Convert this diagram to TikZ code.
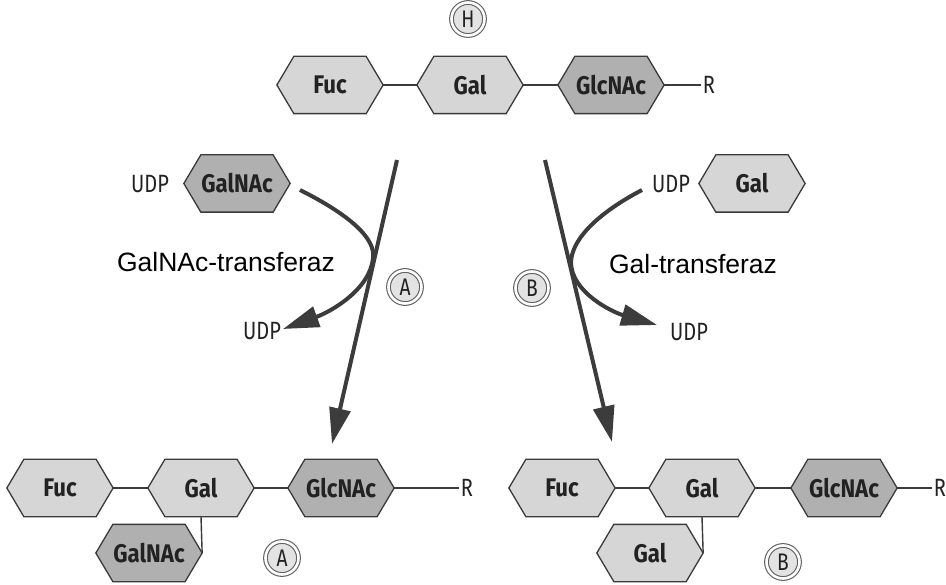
\documentclass[tikz,border=0pt]{standalone}
\usepackage{fontspec}
\setmainfont{Liberation Sans}
\newfontfamily\sugarfont[FakeStretch=0.87]{Fira Sans}
\newfontfamily\condfont[FakeStretch=0.8]{Fira Sans}
\usetikzlibrary{arrows.meta}

% elongated hexagon: a rectangle whose left and right sides are pointed
\makeatletter
\pgfdeclareshape{hexbox}{
  \inheritsavedanchors[from=rectangle]
  \inheritanchorborder[from=rectangle]
  \inheritanchor[from=rectangle]{center}
  \inheritanchor[from=rectangle]{north}
  \inheritanchor[from=rectangle]{south}
  \inheritanchor[from=rectangle]{east}
  \inheritanchor[from=rectangle]{west}
  \inheritanchor[from=rectangle]{north east}
  \inheritanchor[from=rectangle]{north west}
  \inheritanchor[from=rectangle]{south east}
  \inheritanchor[from=rectangle]{south west}
  \inheritanchor[from=rectangle]{base}
  \inheritanchor[from=rectangle]{mid}
  \backgroundpath{%
    \southwest \pgf@xa=\pgf@x \pgf@ya=\pgf@y
    \northeast \pgf@xb=\pgf@x \pgf@yb=\pgf@y
    \pgf@yc=.5\pgf@ya \advance\pgf@yc by .5\pgf@yb
    \pgf@xc=\pgf@xa \advance\pgf@xc by 17pt
    \pgfpathmoveto{\pgfqpoint{\pgf@xa}{\pgf@yc}}
    \pgfpathlineto{\pgfqpoint{\pgf@xc}{\pgf@yb}}
    \pgf@xc=\pgf@xb \advance\pgf@xc by -17pt
    \pgfpathlineto{\pgfqpoint{\pgf@xc}{\pgf@yb}}
    \pgfpathlineto{\pgfqpoint{\pgf@xb}{\pgf@yc}}
    \pgfpathlineto{\pgfqpoint{\pgf@xc}{\pgf@ya}}
    \pgf@xc=\pgf@xa \advance\pgf@xc by 17pt
    \pgfpathlineto{\pgfqpoint{\pgf@xc}{\pgf@ya}}
    \pgfpathclose
  }
}
\makeatother

\definecolor{sugarlight}{HTML}{D6D6D6}
\definecolor{sugardark}{HTML}{B0B0B0}
\definecolor{edgegray}{HTML}{3A3A3A}
\definecolor{flowgray}{HTML}{3C3C3C}
\definecolor{inkgray}{HTML}{222222}

\tikzset{
  sugar/.style={shape=hexbox, draw=edgegray, line width=1.3pt,
    minimum width=105pt, minimum height=56pt, inner sep=0pt,
    font=\sugarfont\bfseries\fontsize{25.5}{28}\selectfont, text=inkgray},
  light/.style={sugar, fill=sugarlight},
  dark/.style={sugar, fill=sugardark},
  tag/.style={font=\condfont\fontsize{25}{28}\selectfont, inner sep=2pt, text=inkgray},
  enzyme/.style={font=\fontsize{26.5}{30}\selectfont, inner sep=0pt, text=black},
  bond/.style={draw=edgegray, line width=1.4pt},
  flow/.style={draw=flowgray, line width=4pt,
    -{Triangle[length=36pt,width=21pt]}},
  badge/.style={circle, draw=gray!75!black, line width=1.1pt,
    double=white, double distance=2.6pt, fill=gray!22,
    minimum size=33pt, inner sep=0pt,
    font=\condfont\fontsize{24}{26}\selectfont, text=inkgray},
}

\begin{document}
\begin{tikzpicture}[x=1pt,y=-1pt]
\useasboundingbox (0,0) rectangle (946,585);

% H antigen
\node[badge] (lblH) at (468,19) {H};
\node[light] (hFuc) at (330,85) {Fuc};
\node[light] (hGal) at (470,85) {Gal};
\node[dark]  (hGlc) at (611,85) {GlcNAc};
\node[tag]   (hR)   at (709,85) {R};
\draw[bond] (hFuc.east) -- (hGal.west);
\draw[bond] (hGal.east) -- (hGlc.west);
\draw[bond] (hGlc.east) -- (hR.west);

% donor substrates
\node[tag]  (udpA)  at (150,184) {UDP};
\node[dark] (donA)  at (237,183.5) {GalNAc};
\node[tag]  (udpB)  at (671,184) {UDP};
\node[light] (donB) at (752,183.5) {Gal};

% released UDP
\node[tag] (relA) at (262,331) {UDP};
\node[tag] (relB) at (689,332) {UDP};

% enzymes
\node[enzyme] (enzA) at (226,262) {GalNAc-transferaz};
\node[enzyme] (enzB) at (693,264) {Gal-transferaz};
\node[badge] (lblA1) at (405,287) {A};
\node[badge] (lblB1) at (532,288) {B};

% reaction arrows
\coordinate (mainA0) at (397,160);
\coordinate (mainA1) at (332,444);
\coordinate (mainB0) at (545,160);
\coordinate (mainB1) at (612,442);
\draw[flow] (mainA0) -- (mainA1);
\draw[flow] (mainB0) -- (mainB1);

\coordinate (curA0) at (300,190);
\coordinate (curA1) at (283,329);
\draw[flow] (curA0) .. controls (348,214) and (376,238) .. (373,258)
  .. controls (370,290) and (330,312) .. (curA1);
\coordinate (curB0) at (642,190);
\coordinate (curB1) at (657,325);
\draw[flow] (curB0) .. controls (600,212) and (572,238) .. (571,262)
  .. controls (571,292) and (612,312) .. (curB1);

% A antigen
\node[light] (aFuc) at (60,488) {Fuc};
\node[light] (aGal) at (201,488) {Gal};
\node[dark]  (aGlc) at (341,488) {GlcNAc};
\node[tag]   (aR)   at (467,488) {R};
\node[dark]  (aSub) at (149,553) {GalNAc};
\draw[bond] (aFuc.east) -- (aGal.west);
\draw[bond] (aGal.east) -- (aGlc.west);
\draw[bond] (aGlc.east) -- (aR.west);
\draw[bond] (aGal.south) -- (aSub.east);
\node[badge] (lblA2) at (282,558) {A};

% B antigen
\node[light] (bFuc) at (562,488) {Fuc};
\node[light] (bGal) at (702,488) {Gal};
\node[dark]  (bGlc) at (844,488) {GlcNAc};
\node[tag]   (bR)   at (940,488) {R};
\node[light] (bSub) at (650,553) {Gal};
\draw[bond] (bFuc.east) -- (bGal.west);
\draw[bond] (bGal.east) -- (bGlc.west);
\draw[bond] (bGlc.east) -- (bR.west);
\draw[bond] (bGal.south) -- (bSub.east);
\node[badge] (lblB2) at (783,562) {B};
\end{tikzpicture}
\end{document}
